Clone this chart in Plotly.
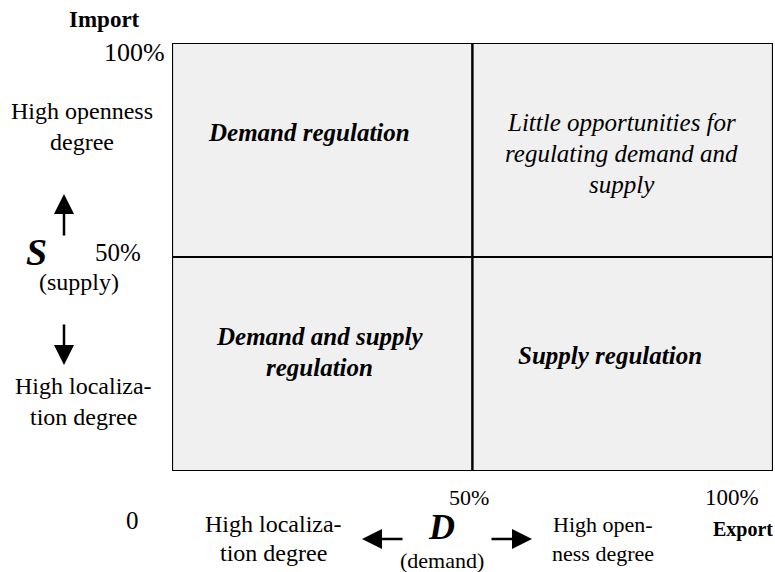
import plotly.graph_objects as go

W, H = 775, 572
# plot box in pixels
L, T, R, B = 172, 43, 773, 471

# quadrant boundaries (share of trade, 0..1)
x_bounds = [0.0, 0.5, 1.0]
y_bounds = [0.0, 0.5, 1.0]

# quadrant labels (centre of each text block, in axis units)
quad_x = [0.228, 0.748, 0.246, 0.729]
quad_y = [0.790, 0.741, 0.278, 0.271]
quad_lines = [
    ["Demand regulation"],
    ["Little opportunities for", "regulating demand and", "supply"],
    ["Demand and supply", "regulation"],
    ["Supply regulation"],
]
quad_bold = [True, False, True, True]

SERIF = "Liberation Serif, Times New Roman, serif"
FILL = "#f0f0f0"
LINE_GAP = 31 / (B - T)  # line spacing inside quadrants, axis units


def px(x):
    return (x - L) / (R - L)


def py(y):
    return (B - y) / (B - T)


fig = go.Figure()

fig.add_trace(go.Scatter(x=[0, 1], y=[0, 1], mode="markers",
                         marker=dict(opacity=0), hoverinfo="skip", showlegend=False))

for i in range(2):
    for j in range(2):
        fig.add_shape(type="rect", xref="x", yref="y",
                      x0=x_bounds[i], x1=x_bounds[i + 1],
                      y0=y_bounds[j], y1=y_bounds[j + 1],
                      fillcolor=FILL, line=dict(color="black", width=2.2), layer="below")

annotations = []

for qx, qy, lines, bold in zip(quad_x, quad_y, quad_lines, quad_bold):
    n = len(lines)
    for k, ln in enumerate(lines):
        txt = ("<b><i>" + ln + "</i></b>") if bold else ("<i>" + ln + "</i>")
        annotations.append(dict(xref="x", yref="y", x=qx,
                                y=qy + (n - 1) / 2 * LINE_GAP - k * LINE_GAP,
                                text=txt, showarrow=False, yanchor="middle",
                                font=dict(family=SERIF, size=25, color="black"),
                                align="center"))


def label(xp, yp, text, size=24):
    annotations.append(dict(xref="paper", yref="paper", x=px(xp), y=py(yp), text=text,
                            showarrow=False, xanchor="center", yanchor="middle",
                            font=dict(family=SERIF, size=size, color="black"), align="center"))


def arrow(x_tip, y_tip, x_tail, y_tail):
    annotations.append(dict(xref="paper", yref="paper", x=px(x_tip), y=py(y_tip),
                            ax=x_tail - x_tip, ay=y_tail - y_tip, axref="pixel", ayref="pixel",
                            text="", showarrow=True, arrowhead=2, arrowsize=1.6,
                            arrowwidth=2.5, arrowcolor="black"))


# left (supply) side
label(104, 20, "<b>Import</b>", 23)
label(134, 53, "100%", 26)
label(82, 111, "High openness", 24)
label(82, 142, "degree", 24)
label(36, 252, "<b><i>S</i></b>", 38)
label(118, 252, "50%", 25)
label(79, 282, "(supply)", 24)
label(83, 386, "High localiza-", 24)
label(83, 417, "tion degree", 24)
label(132, 520, "0", 25)
arrow(64, 194, 64, 237)
arrow(64, 365, 64, 323)

# bottom (demand) side
label(469, 497, "50%", 22)
label(732, 497, "100%", 23)
label(743, 529, "<b>Export</b>", 20)
label(273, 524, "High localiza-", 24)
label(273, 553, "tion degree", 24)
label(441, 527, "<b><i>D</i></b>", 36)
label(442, 560, "(demand)", 22)
label(603, 524, "High open-", 22)
label(603, 553, "ness degree", 22)
arrow(362, 539, 404, 539)
arrow(532, 539, 490, 539)

fig.update_layout(
    width=W, height=H,
    margin=dict(l=L, r=W - R, t=T, b=H - B, pad=0),
    paper_bgcolor="white", plot_bgcolor="white",
    xaxis=dict(range=[0, 1], visible=False, fixedrange=True),
    yaxis=dict(range=[0, 1], visible=False, fixedrange=True),
    annotations=annotations,
    showlegend=False,
)

fig.write_html("out.html", config={"displayModeBar": False},
               post_script="document.body.style.margin='0px';")
